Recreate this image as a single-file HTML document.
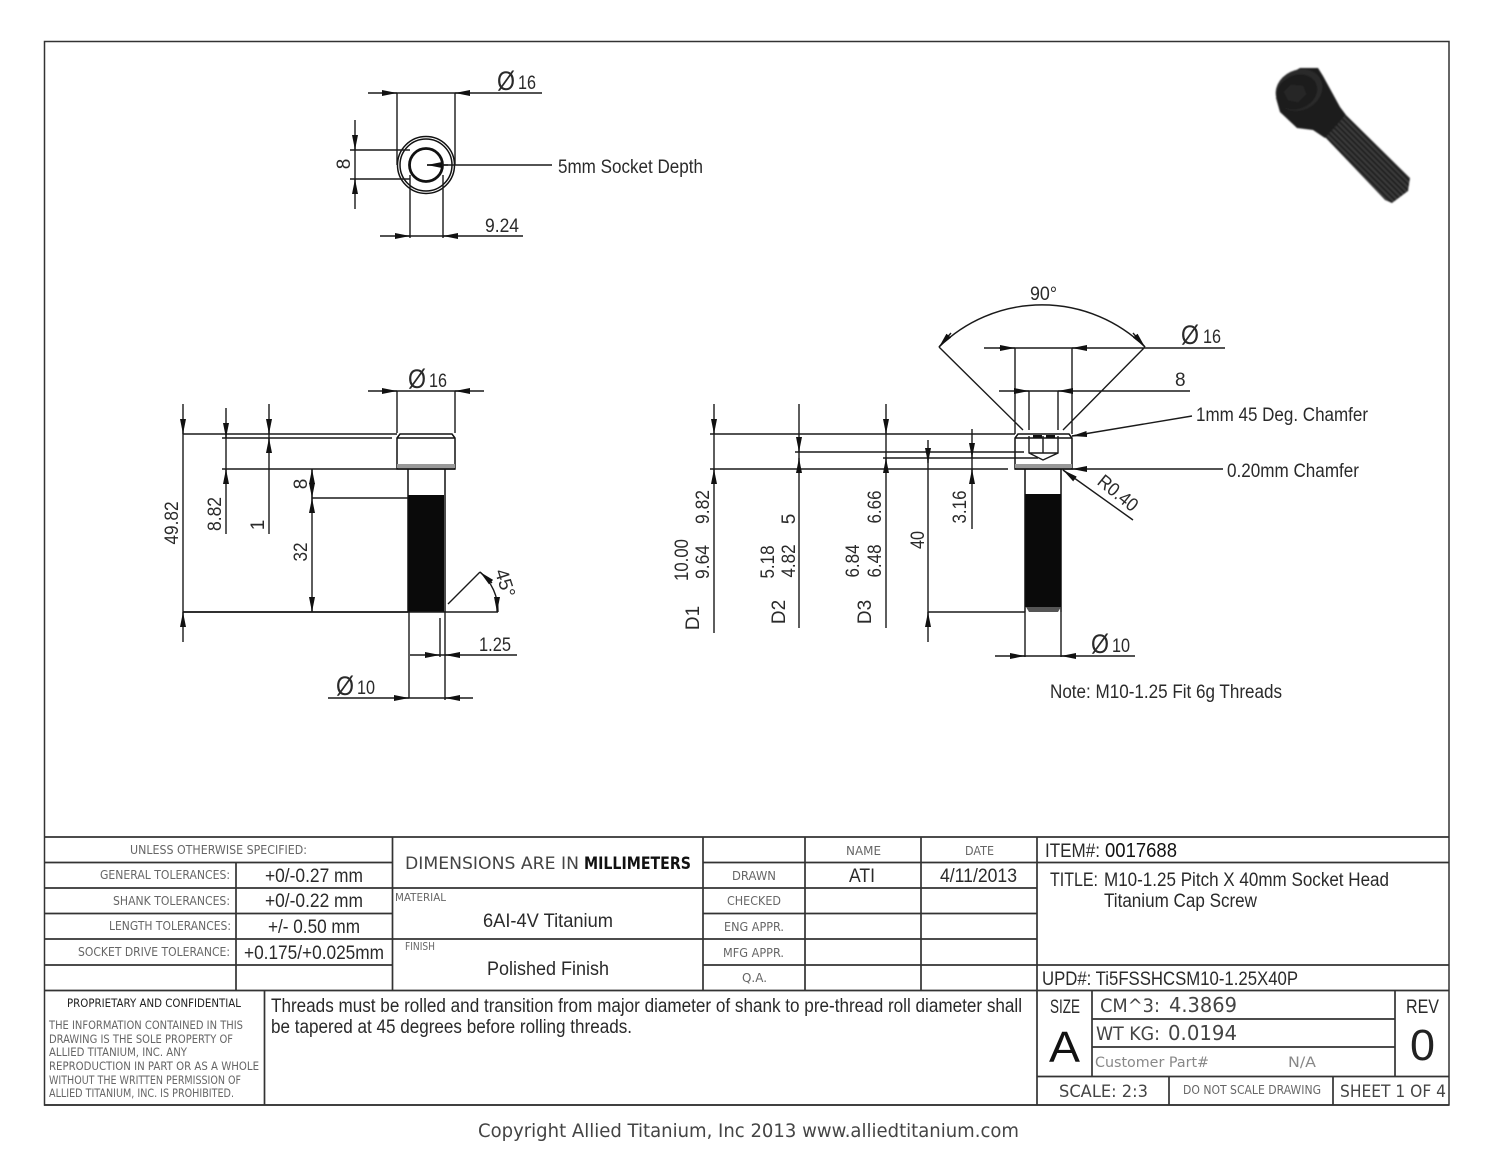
<!DOCTYPE html>
<html><head><meta charset="utf-8"><style>
html,body{margin:0;padding:0;background:#fff}
svg{display:block}
text{font-family:"Liberation Sans",sans-serif;fill:#2a2a2a;font-size:19px}
.g{font-family:"DejaVu Sans",sans-serif;fill:#666;font-size:12px}
.l{stroke:#111;stroke-width:1.5;fill:none}
.m{stroke:#1a1a1a;stroke-width:1.4;fill:none}
.t{stroke:#333;stroke-width:1.7;fill:none}
.p{font-size:27px}
</style></head><body>
<svg width="1500" height="1159" viewBox="0 0 1500 1159" xmlns="http://www.w3.org/2000/svg">
<defs>
<marker id="a" markerUnits="userSpaceOnUse" markerWidth="16" markerHeight="8" refX="15" refY="4" orient="auto"><path d="M0,1 L15,4 L0,7Z" fill="#111"/></marker>
<pattern id="th" width="4" height="4" patternUnits="userSpaceOnUse" patternTransform="rotate(-45)"><rect width="4" height="4" fill="#3c3c3c"/><rect width="2" height="4" fill="#1c1c1c"/></pattern>
<filter id="bl"><feGaussianBlur stdDeviation="0.8"/></filter>
</defs>
<rect width="1500" height="1159" fill="#fff"/>
<rect x="44.5" y="41.5" width="1404.5" height="1063.5" fill="none" stroke="#333" stroke-width="1.5"/>

<!-- bolt picture -->
<g filter="url(#bl)">
<path d="M1346,115 L1410,178 L1408,191 L1392,203 L1385,200 L1325,137 Z" fill="url(#th)"/>
<path d="M1276,98 L1282,78 L1300,68 L1318,68 L1323,76 L1340,107 L1346,115 L1325,138 L1313,130 L1297,128 L1280,112 Z" fill="#1a1a1a"/>
<ellipse cx="1299" cy="90" rx="24" ry="20" transform="rotate(-25 1299 90)" fill="#2c2c2c"/>
<ellipse cx="1297" cy="92" rx="21" ry="17" transform="rotate(-25 1297 92)" fill="#1e1e1e"/>
<path d="M1284,92 L1291,85 L1303,86 L1306,94 L1298,102 L1288,100Z" fill="#262626"/>
</g>

<!-- top view -->
<circle cx="426" cy="165" r="28.5" class="l"/>
<circle cx="426" cy="165" r="26" class="l"/>
<circle cx="426" cy="165" r="16.5" fill="none" stroke="#111" stroke-width="2.8"/>
<path class="m" d="M368,93H542M397,93V165M455,93V165M355,120V209M350,150H410M350,179H410M380,236H523M410,175V238M443,175V238M427,165H552"/>
<path class="m" marker-end="url(#a)" d="M382,93H397"/>
<path class="m" marker-end="url(#a)" d="M470,93H455"/>
<path class="m" marker-end="url(#a)" d="M355,135V150"/>
<path class="m" marker-end="url(#a)" d="M355,194V179"/>
<path class="m" marker-end="url(#a)" d="M395,236H410"/>
<path class="m" marker-end="url(#a)" d="M458,236H443"/>
<path class="m" marker-end="url(#a)" d="M448,165H427"/>
<text x="497" y="90" class="p" style="font-size:27px" textLength="18" lengthAdjust="spacingAndGlyphs">Ø</text>
<text x="518" y="89" textLength="18" lengthAdjust="spacingAndGlyphs">16</text>
<text transform="translate(350,164) rotate(-90)" text-anchor="middle">8</text>
<text x="558" y="173" textLength="145" lengthAdjust="spacingAndGlyphs">5mm Socket Depth</text>
<text x="485" y="232" textLength="34" lengthAdjust="spacingAndGlyphs">9.24</text>

<!-- left view -->
<path class="l" d="M397,469V438L400,434H452L455,438V469Z M397,438H455"/>
<rect x="397" y="464" width="58" height="4" fill="#999"/>
<path class="l" stroke-width="2" d="M397,469H455"/>
<path class="l" d="M408,469V612M445,469V612"/>
<rect x="408.500" y="495" width="35.500" height="117" fill="#0a0a0a"/>
<path class="m" d="M368,391H484M397,391V433M455,391V433M183,404V642M183,434H397M183,612H445M226,408V534M222,438H392M222,469H397M269,404V534M312,469V612M312,498H408M409,612V698M445,612V700M448,604L480,572M445,612H498M440,618V657M410,655H517M328,698H473"/>
<path class="l" stroke-width="1.800" d="M183,612H408"/>
<path class="m" d="M480,572A51,51 0 0 1 498,612"/>
<path class="m" marker-end="url(#a)" d="M382,391H397"/>
<path class="m" marker-end="url(#a)" d="M470,391H455"/>
<path class="m" marker-end="url(#a)" d="M183,419V434"/>
<path class="m" marker-end="url(#a)" d="M183,627V612"/>
<path class="m" marker-end="url(#a)" d="M226,423V438"/>
<path class="m" marker-end="url(#a)" d="M226,484V469"/>
<path class="m" marker-end="url(#a)" d="M269,419V434"/>
<path class="m" marker-end="url(#a)" d="M269,453V438"/>
<path class="m" marker-end="url(#a)" d="M312,484V469"/>
<path class="m" marker-end="url(#a)" d="M312,483V498"/>
<path class="m" marker-end="url(#a)" d="M312,513V498"/>
<path class="m" marker-end="url(#a)" d="M312,597V612"/>
<path class="m" marker-end="url(#a)" d="M492,583L480,572"/>
<path class="m" marker-end="url(#a)" d="M497,597V612"/>
<path class="m" marker-end="url(#a)" d="M425,655H440"/>
<path class="m" marker-end="url(#a)" d="M460,655H445"/>
<path class="m" marker-end="url(#a)" d="M394,698H409"/>
<path class="m" marker-end="url(#a)" d="M460,698H445"/>
<text x="408" y="388" style="font-size:27px" textLength="18" lengthAdjust="spacingAndGlyphs">Ø</text>
<text x="429" y="387" textLength="18" lengthAdjust="spacingAndGlyphs">16</text>
<text transform="translate(178,523) rotate(-90)" text-anchor="middle" textLength="43" lengthAdjust="spacingAndGlyphs">49.82</text>
<text transform="translate(221,514) rotate(-90)" text-anchor="middle" textLength="34" lengthAdjust="spacingAndGlyphs">8.82</text>
<text transform="translate(264,525) rotate(-90)" text-anchor="middle">1</text>
<text transform="translate(307,484) rotate(-90)" text-anchor="middle">8</text>
<text transform="translate(307,552) rotate(-90)" text-anchor="middle" textLength="19" lengthAdjust="spacingAndGlyphs">32</text>
<text transform="translate(499,585) rotate(72)" text-anchor="middle">45°</text>
<text x="479" y="651" textLength="32" lengthAdjust="spacingAndGlyphs">1.25</text>
<text x="336" y="695" style="font-size:27px" textLength="18" lengthAdjust="spacingAndGlyphs">Ø</text>
<text x="357" y="694" textLength="18" lengthAdjust="spacingAndGlyphs">10</text>

<!-- right view -->
<path class="l" d="M1015,469V438L1018,434H1069L1072,438V469Z M1015,438H1072"/>
<rect x="1015" y="464" width="57" height="4" fill="#999"/>
<path class="l" stroke-width="2" d="M1015,469H1072"/>
<path class="l" d="M1025,469V612M1061,469V612"/>
<path class="m" d="M1029,436V453L1043,460L1058,453V436M1043,436V453M1029,453H1058"/>
<rect x="1033" y="435" width="9" height="3" fill="#111"/><rect x="1046" y="435" width="9" height="3" fill="#111"/>
<rect x="1025.500" y="494" width="35.500" height="113" fill="#0a0a0a"/>
<path d="M1026,607L1029,612H1058L1061,607Z" fill="#555"/>
<path class="m" d="M984,348H1225M1015,348V434M1072,348V434M999,391H1190M1029,391V430M1058,391V430M939,347L1023,430M1145,347L1063,430"/>
<path class="m" d="M939,347A147,147 0 0 1 1145,347"/>
<path class="m" d="M1072,436L1192,416M1072,469H1223M1063,470L1133,520"/>
<path class="m" d="M714,404V633M710,434H1015M710,469H1008M799,404V628M795,452H1024M886,404V628M883,458H1038M928,440V642M928,612H1025M972,429V529M1025,612V657M1061,612V657M995,656H1135"/>
<path class="m" marker-end="url(#a)" d="M999,348H1015"/>
<path class="m" marker-end="url(#a)" d="M1087,348H1072"/>
<path class="m" marker-end="url(#a)" d="M1014,391H1029"/>
<path class="m" marker-end="url(#a)" d="M1073,391H1058"/>
<path class="m" marker-end="url(#a)" d="M951,333L939,347"/>
<path class="m" marker-end="url(#a)" d="M1133,333L1145,347"/>
<path class="m" marker-end="url(#a)" d="M1087,434L1072,436"/>
<path class="m" marker-end="url(#a)" d="M1087,469H1072"/>
<path class="m" marker-end="url(#a)" d="M1075,479L1063,470"/>
<path class="m" marker-end="url(#a)" d="M714,419V434"/>
<path class="m" marker-end="url(#a)" d="M714,484V469"/>
<path class="m" marker-end="url(#a)" d="M799,437V452"/>
<path class="m" marker-end="url(#a)" d="M799,473V458"/>
<path class="m" marker-end="url(#a)" d="M886,419V434"/>
<path class="m" marker-end="url(#a)" d="M886,473V458"/>
<path class="m" marker-end="url(#a)" d="M928,448V463"/>
<path class="m" marker-end="url(#a)" d="M928,627V612"/>
<path class="m" marker-end="url(#a)" d="M972,443V458"/>
<path class="m" marker-end="url(#a)" d="M972,484V469"/>
<path class="m" marker-end="url(#a)" d="M1010,656H1025"/>
<path class="m" marker-end="url(#a)" d="M1076,656H1061"/>
<text x="1030" y="300" textLength="27" lengthAdjust="spacingAndGlyphs">90°</text>
<text x="1181" y="344" style="font-size:27px" textLength="18" lengthAdjust="spacingAndGlyphs">Ø</text>
<text x="1203" y="343" textLength="18" lengthAdjust="spacingAndGlyphs">16</text>
<text x="1175" y="386">8</text>
<text x="1196" y="421" textLength="172" lengthAdjust="spacingAndGlyphs">1mm 45 Deg. Chamfer</text>
<text x="1227" y="477" textLength="132" lengthAdjust="spacingAndGlyphs">0.20mm Chamfer</text>
<text transform="translate(1114,498) rotate(39)" text-anchor="middle" textLength="46" lengthAdjust="spacingAndGlyphs">R0.40</text>
<text transform="translate(699,618) rotate(-90)" text-anchor="middle">D1</text>
<text transform="translate(688,560) rotate(-90)" text-anchor="middle" textLength="42" lengthAdjust="spacingAndGlyphs">10.00</text>
<text transform="translate(709,507) rotate(-90)" text-anchor="middle" textLength="34" lengthAdjust="spacingAndGlyphs">9.82</text>
<text transform="translate(709,562) rotate(-90)" text-anchor="middle" textLength="34" lengthAdjust="spacingAndGlyphs">9.64</text>
<text transform="translate(785,612) rotate(-90)" text-anchor="middle">D2</text>
<text transform="translate(774,562) rotate(-90)" text-anchor="middle" textLength="33" lengthAdjust="spacingAndGlyphs">5.18</text>
<text transform="translate(795,519) rotate(-90)" text-anchor="middle">5</text>
<text transform="translate(795,561) rotate(-90)" text-anchor="middle" textLength="33" lengthAdjust="spacingAndGlyphs">4.82</text>
<text transform="translate(871,612) rotate(-90)" text-anchor="middle">D3</text>
<text transform="translate(859,561) rotate(-90)" text-anchor="middle" textLength="33" lengthAdjust="spacingAndGlyphs">6.84</text>
<text transform="translate(881,507) rotate(-90)" text-anchor="middle" textLength="33" lengthAdjust="spacingAndGlyphs">6.66</text>
<text transform="translate(881,561) rotate(-90)" text-anchor="middle" textLength="33" lengthAdjust="spacingAndGlyphs">6.48</text>
<text transform="translate(924,540) rotate(-90)" text-anchor="middle" textLength="18" lengthAdjust="spacingAndGlyphs">40</text>
<text transform="translate(966,507) rotate(-90)" text-anchor="middle" textLength="33" lengthAdjust="spacingAndGlyphs">3.16</text>
<text x="1091" y="653" style="font-size:27px" textLength="18" lengthAdjust="spacingAndGlyphs">Ø</text>
<text x="1112" y="652" textLength="18" lengthAdjust="spacingAndGlyphs">10</text>
<text x="1050" y="698" textLength="232" lengthAdjust="spacingAndGlyphs">Note: M10-1.25 Fit 6g Threads</text>

<!-- title block lines -->
<path class="t" d="M44,837H1449M44,862.500H393M44,888H393M44,913.500H393M44,939H393M44,965H393M44,990.500H1449M44,1105H1449
M393,888H703M393,939H703M703,862.500H1037M703,888H1037M703,913.500H1037M703,939H1037M703,965H1037
M1037,862.500H1449M1037,965H1449M1092,1019H1395M1092,1047H1395M1037,1076.500H1449
M236,862.500V990.500M392.500,837V990.500M264.500,990.500V1105M703,837V990.500M805,837V990.500M921,837V990.500M1037,837V1105M1092,990.500V1076.500M1395,990.500V1076.500M1169,1076.500V1105M1333,1076.500V1105"/>

<!-- title block text -->
<text class="g" x="130" y="854" textLength="177" lengthAdjust="spacingAndGlyphs">UNLESS OTHERWISE SPECIFIED:</text>
<text class="g" x="100" y="879" textLength="130" lengthAdjust="spacingAndGlyphs">GENERAL TOLERANCES:</text>
<text class="g" x="113" y="905" textLength="117" lengthAdjust="spacingAndGlyphs">SHANK TOLERANCES:</text>
<text class="g" x="109" y="930" textLength="122" lengthAdjust="spacingAndGlyphs">LENGTH TOLERANCES:</text>
<text class="g" x="78" y="956" textLength="152" lengthAdjust="spacingAndGlyphs">SOCKET DRIVE TOLERANCE:</text>
<text x="265" y="882" textLength="98" lengthAdjust="spacingAndGlyphs">+0/-0.27 mm</text>
<text x="265" y="907" textLength="98" lengthAdjust="spacingAndGlyphs">+0/-0.22 mm</text>
<text x="268" y="933" textLength="92" lengthAdjust="spacingAndGlyphs">+/- 0.50 mm</text>
<text x="244" y="959" textLength="140" lengthAdjust="spacingAndGlyphs">+0.175/+0.025mm</text>
<text class="g" x="405" y="869" textLength="174" lengthAdjust="spacingAndGlyphs" style="font-size:17px;fill:#444">DIMENSIONS ARE IN</text>
<text class="g" x="584" y="869" textLength="107" lengthAdjust="spacingAndGlyphs" style="font-size:17px;fill:#111;font-weight:bold">MILLIMETERS</text>
<text class="g" x="395" y="901" textLength="51" lengthAdjust="spacingAndGlyphs" style="font-size:11px">MATERIAL</text>
<text x="483" y="927" textLength="130" lengthAdjust="spacingAndGlyphs">6AI-4V Titanium</text>
<text class="g" x="405" y="950" textLength="30" lengthAdjust="spacingAndGlyphs" style="font-size:11px">FINISH</text>
<text x="487" y="975" textLength="122" lengthAdjust="spacingAndGlyphs">Polished Finish</text>
<text class="g" x="846" y="855" textLength="35" lengthAdjust="spacingAndGlyphs">NAME</text>
<text class="g" x="965" y="855" textLength="29" lengthAdjust="spacingAndGlyphs">DATE</text>
<text class="g" x="732" y="880" textLength="44" lengthAdjust="spacingAndGlyphs">DRAWN</text>
<text class="g" x="727" y="905" textLength="54" lengthAdjust="spacingAndGlyphs">CHECKED</text>
<text class="g" x="724" y="931" textLength="60" lengthAdjust="spacingAndGlyphs">ENG APPR.</text>
<text class="g" x="723" y="957" textLength="61" lengthAdjust="spacingAndGlyphs">MFG APPR.</text>
<text class="g" x="742" y="982" textLength="25" lengthAdjust="spacingAndGlyphs">Q.A.</text>
<text x="849" y="882" textLength="26" lengthAdjust="spacingAndGlyphs">ATI</text>
<text x="940" y="882" textLength="77" lengthAdjust="spacingAndGlyphs">4/11/2013</text>
<text class="g" x="67" y="1007" textLength="174" lengthAdjust="spacingAndGlyphs" style="font-size:11.500px;fill:#222">PROPRIETARY AND CONFIDENTIAL</text>
<text class="g" x="49" y="1029" textLength="194" lengthAdjust="spacingAndGlyphs" style="font-size:11.500px">THE INFORMATION CONTAINED IN THIS</text>
<text class="g" x="49" y="1043" textLength="184" lengthAdjust="spacingAndGlyphs" style="font-size:11.500px">DRAWING IS THE SOLE PROPERTY OF</text>
<text class="g" x="49" y="1056" textLength="138" lengthAdjust="spacingAndGlyphs" style="font-size:11.500px">ALLIED TITANIUM, INC.  ANY</text>
<text class="g" x="49" y="1070" textLength="210" lengthAdjust="spacingAndGlyphs" style="font-size:11.500px">REPRODUCTION IN PART OR AS A WHOLE</text>
<text class="g" x="49" y="1084" textLength="192" lengthAdjust="spacingAndGlyphs" style="font-size:11.500px">WITHOUT THE WRITTEN PERMISSION OF</text>
<text class="g" x="49" y="1097" textLength="185" lengthAdjust="spacingAndGlyphs" style="font-size:11.500px">ALLIED TITANIUM, INC. IS PROHIBITED.</text>
<text x="271" y="1012" textLength="751" lengthAdjust="spacingAndGlyphs">Threads must be rolled and transition from major diameter of shank to pre-thread roll diameter shall</text>
<text x="271" y="1033" textLength="361" lengthAdjust="spacingAndGlyphs">be tapered at 45 degrees before rolling threads.</text>
<text x="1045" y="857" textLength="55" lengthAdjust="spacingAndGlyphs">ITEM#:</text>
<text x="1105" y="857" textLength="72" lengthAdjust="spacingAndGlyphs" style="fill:#111;font-size:20px">0017688</text>
<text x="1050" y="886" textLength="48" lengthAdjust="spacingAndGlyphs">TITLE:</text>
<text x="1104" y="886" textLength="285" lengthAdjust="spacingAndGlyphs">M10-1.25 Pitch X 40mm Socket Head</text>
<text x="1104" y="907" textLength="153" lengthAdjust="spacingAndGlyphs">Titanium Cap Screw</text>
<text x="1042" y="985" textLength="256" lengthAdjust="spacingAndGlyphs">UPD#: Ti5FSSHCSM10-1.25X40P</text>
<text x="1050" y="1013" textLength="30" lengthAdjust="spacingAndGlyphs">SIZE</text>
<text x="1049" y="1062" style="font-size:44px;fill:#111" textLength="31" lengthAdjust="spacingAndGlyphs">A</text>
<text class="g" x="1100" y="1012" textLength="60" lengthAdjust="spacingAndGlyphs" style="font-size:19px;fill:#444">CM^3:</text>
<text class="g" x="1169" y="1012" textLength="68" lengthAdjust="spacingAndGlyphs" style="font-size:20px;fill:#444">4.3869</text>
<text class="g" x="1096" y="1040" textLength="64" lengthAdjust="spacingAndGlyphs" style="font-size:19px;fill:#444">WT KG:</text>
<text class="g" x="1168" y="1040" textLength="69" lengthAdjust="spacingAndGlyphs" style="font-size:20px;fill:#444">0.0194</text>
<text class="g" x="1095" y="1067" textLength="114" lengthAdjust="spacingAndGlyphs" style="font-size:14px;fill:#888">Customer Part#</text>
<text class="g" x="1288" y="1067" textLength="28" lengthAdjust="spacingAndGlyphs" style="font-size:14px;fill:#888">N/A</text>
<text x="1406" y="1013" textLength="33" lengthAdjust="spacingAndGlyphs">REV</text>
<text x="1410" y="1060" textLength="25" lengthAdjust="spacingAndGlyphs" style="font-size:44px;fill:#222">0</text>
<text class="g" x="1059" y="1097" textLength="89" lengthAdjust="spacingAndGlyphs" style="font-size:17px;fill:#444">SCALE: 2:3</text>
<text class="g" x="1183" y="1094" textLength="138" lengthAdjust="spacingAndGlyphs">DO NOT SCALE DRAWING</text>
<text class="g" x="1340" y="1097" textLength="106" lengthAdjust="spacingAndGlyphs" style="font-size:17px;fill:#444">SHEET 1 OF 4</text>
<text class="g" x="478" y="1137" textLength="541" lengthAdjust="spacingAndGlyphs" style="font-size:19px;fill:#444">Copyright Allied Titanium, Inc 2013 www.alliedtitanium.com</text>
</svg>
</body></html>
